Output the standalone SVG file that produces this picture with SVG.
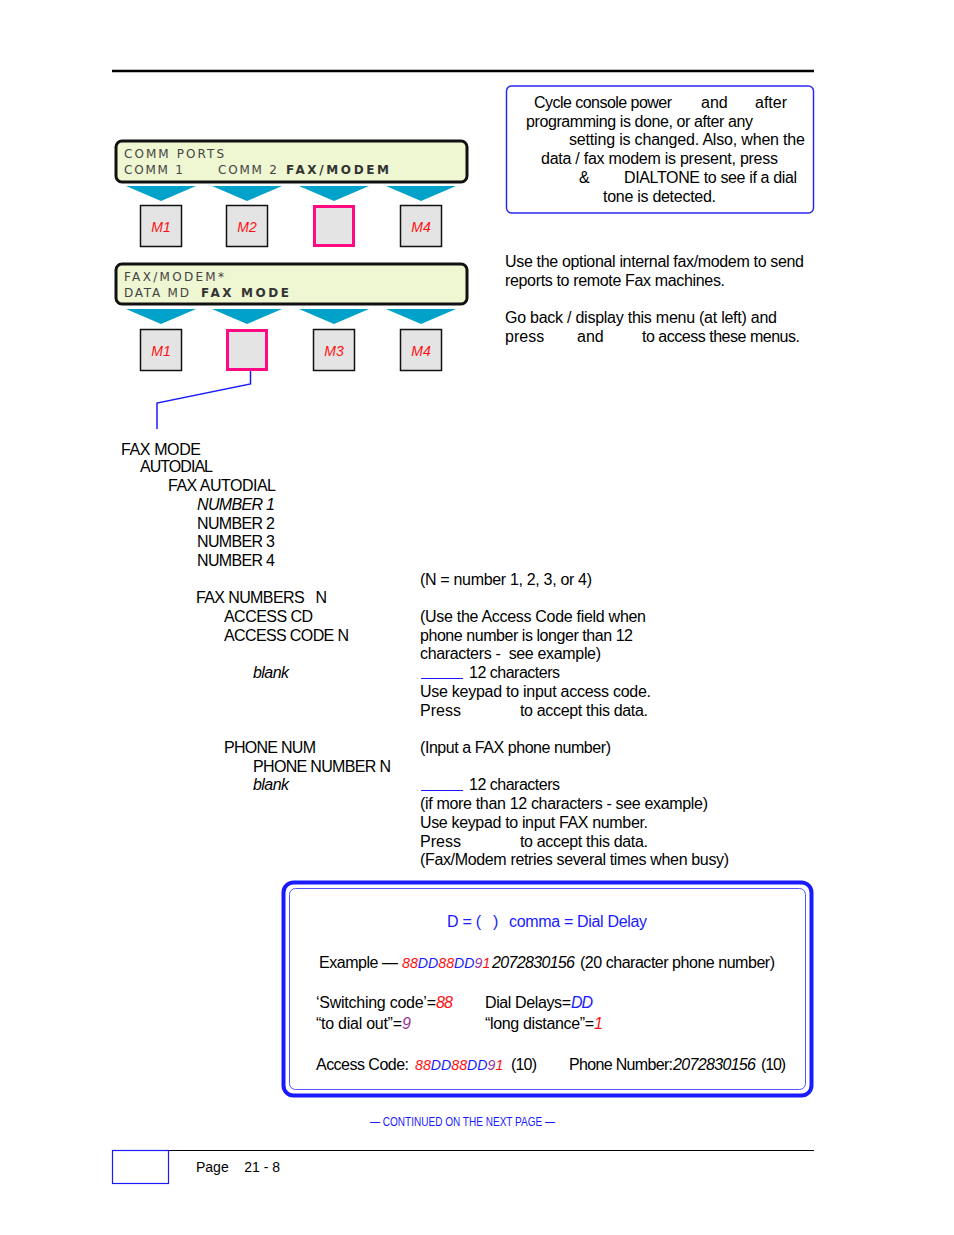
<svg xmlns="http://www.w3.org/2000/svg" width="954" height="1235" viewBox="0 0 954 1235">
<style>
.t{font-family:"Liberation Sans",Arial,sans-serif;font-size:16px;fill:#000}
.i{font-style:italic}
.cr{font-family:"Liberation Sans",Arial,sans-serif;font-size:14.2px;font-style:italic}
.lcd{font-family:"DejaVu Sans",Verdana,sans-serif;font-size:12px;fill:#444}
.lcdb{font-family:"DejaVu Sans",Verdana,sans-serif;font-size:12px;font-weight:bold;fill:#333}
.lcdbox{fill:#eef6d2;stroke:#111;stroke-width:3}
.tri{fill:#00a2c9}
.key{fill:#e4e4e4;stroke:#111;stroke-width:1.5}
.sel{fill:#e4e4e4;stroke:#ff0a82;stroke-width:3}
.ml{font-family:"Liberation Sans",Arial,sans-serif;font-size:14px;font-style:italic;fill:#ff1010;text-anchor:middle}
.r{fill:#ff1010}
.b{fill:#1a1aff}
.p{fill:#993399}
</style>
<rect width="954" height="1235" fill="#fff"/>
<line x1="112" y1="71" x2="814" y2="71" stroke="#000" stroke-width="2.5"/>

<g id="note-box">
<rect x="506.5" y="86" width="307" height="127" rx="5" fill="#fff" stroke="#2a2aee" stroke-width="1.5"/>
<text class="t" x="534" y="108" textLength="138">Cycle console power</text>
<text class="t" x="701" y="108">and</text>
<text class="t" x="755" y="108">after</text>
<text class="t" x="526" y="127" textLength="227">programming is done, or after any</text>
<text class="t" x="569" y="145" textLength="236">setting is changed.  Also, when the</text>
<text class="t" x="541" y="164" textLength="237">data / fax modem is present, press</text>
<text class="t" x="579" y="183">&amp;</text>
<text class="t" x="624" y="183" textLength="173">DIALTONE to see if a dial</text>
<text class="t" x="603" y="202" textLength="113">tone is detected.</text>
</g>

<g id="intro-text">
<text class="t" x="505" y="267" textLength="299">Use the optional internal fax/modem to send</text>
<text class="t" x="505" y="286" textLength="220">reports to remote Fax machines.</text>
<text class="t" x="505" y="323" textLength="272">Go back / display this menu (at left) and</text>
<text class="t" x="505" y="342">press</text>
<text class="t" x="577" y="342">and</text>
<text class="t" x="642" y="342" textLength="158">to access these menus.</text>
</g>

<g id="lcd1">
<rect class="lcdbox" x="116" y="141" width="351" height="41" rx="6"/>
<text class="lcd" x="124" y="158" textLength="100">COMM PORTS</text>
<text class="lcd" x="124" y="174" textLength="59">COMM 1</text>
<text class="lcd" x="218" y="174" textLength="59">COMM 2</text>
<text class="lcdb" x="286" y="174" textLength="103">FAX/MODEM</text>
</g>
<g id="tri1">
<polygon class="tri" points="126,186 196,186 161,201"/>
<polygon class="tri" points="212,186 282,186 247,201"/>
<polygon class="tri" points="299,186 369,186 334,201"/>
<polygon class="tri" points="386,186 456,186 421,201"/>
</g>
<g id="keys1">
<rect class="key" x="140.5" y="205.5" width="41" height="41"/><text class="ml" x="161" y="232">M1</text>
<rect class="key" x="226.5" y="205.5" width="41" height="41"/><text class="ml" x="247" y="232">M2</text>
<rect class="sel" x="314.5" y="206.5" width="39" height="39"/>
<rect class="key" x="400.5" y="205.5" width="41" height="41"/><text class="ml" x="421" y="232">M4</text>
</g>

<g id="lcd2">
<rect class="lcdbox" x="116" y="264" width="351" height="40" rx="6"/>
<text class="lcd" x="124" y="281" textLength="100">FAX/MODEM*</text>
<text class="lcd" x="124" y="297" textLength="65">DATA MD</text>
<text class="lcdb" x="201" y="297" textLength="88">FAX MODE</text>
</g>
<g id="tri2">
<polygon class="tri" points="126,309 196,309 161,324"/>
<polygon class="tri" points="212,309 282,309 247,324"/>
<polygon class="tri" points="299,309 369,309 334,324"/>
<polygon class="tri" points="386,309 456,309 421,324"/>
</g>
<g id="keys2">
<rect class="key" x="140.5" y="329.5" width="41" height="41"/><text class="ml" x="161" y="356">M1</text>
<rect class="sel" x="227.5" y="330.5" width="39" height="39"/>
<rect class="key" x="313.5" y="329.5" width="41" height="41"/><text class="ml" x="334" y="356">M3</text>
<rect class="key" x="400.5" y="329.5" width="41" height="41"/><text class="ml" x="421" y="356">M4</text>
</g>

<g id="connectors">
<polyline points="250.5,371 250.5,384 157,403 157,429" fill="none" stroke="#1a1aff" stroke-width="1.5"/>
<line x1="421" y1="678.5" x2="463" y2="678.5" stroke="#1a1aff" stroke-width="1"/>
<line x1="421" y1="790.5" x2="463" y2="790.5" stroke="#1a1aff" stroke-width="1"/>
</g>

<g id="tree">
<text class="t" x="121" y="455" textLength="80">FAX MODE</text>
<text class="t" x="140" y="472" textLength="73">AUTODIAL</text>
<text class="t" x="168" y="491" textLength="108">FAX AUTODIAL</text>
<text class="t i" x="197" y="510" textLength="78">NUMBER 1</text>
<text class="t" x="197" y="529" textLength="78">NUMBER 2</text>
<text class="t" x="197" y="547" textLength="78">NUMBER 3</text>
<text class="t" x="197" y="566" textLength="78">NUMBER 4</text>
<text class="t" x="196" y="603" textLength="131" xml:space="preserve">FAX NUMBERS   N</text>
<text class="t" x="224" y="622" textLength="89">ACCESS CD</text>
<text class="t" x="224" y="641" textLength="125">ACCESS CODE N</text>
<text class="t i" x="253" y="678" textLength="36">blank</text>
<text class="t" x="224" y="753" textLength="92">PHONE NUM</text>
<text class="t" x="253" y="772" textLength="138">PHONE NUMBER N</text>
<text class="t i" x="253" y="790" textLength="36">blank</text>
</g>

<g id="descriptions">
<text class="t" x="420" y="585" textLength="172">(N = number 1, 2, 3, or 4)</text>
<text class="t" x="420" y="622" textLength="226">(Use the Access Code field when</text>
<text class="t" x="420" y="641" textLength="213">phone number is longer than 12</text>
<text class="t" x="420" y="659" textLength="181" xml:space="preserve">characters -  see example)</text>
<text class="t" x="469" y="678" textLength="91">12 characters</text>
<text class="t" x="420" y="697" textLength="231">Use keypad to input access code.</text>
<text class="t" x="420" y="716">Press</text>
<text class="t" x="520" y="716" textLength="128">to accept this data.</text>
<text class="t" x="420" y="753" textLength="191">(Input a FAX phone number)</text>
<text class="t" x="469" y="790" textLength="91">12 characters</text>
<text class="t" x="420" y="809" textLength="288">(if more than 12 characters - see example)</text>
<text class="t" x="420" y="828" textLength="228">Use keypad to input FAX number.</text>
<text class="t" x="420" y="847">Press</text>
<text class="t" x="520" y="847" textLength="128">to accept this data.</text>
<text class="t" x="420" y="865" textLength="309">(Fax/Modem retries several times when busy)</text>
</g>

<g id="example-box">
<rect x="283.5" y="882.5" width="528" height="213" rx="10" fill="#fff" stroke="#1a1aff" stroke-width="4"/>
<rect x="289.5" y="888.5" width="516" height="201" rx="6" fill="none" stroke="#5555ff" stroke-width="1"/>
<text class="t b" x="447" y="927" textLength="34">D = (</text>
<text class="t b" x="493" y="927">)</text>
<text class="t b" x="509" y="927" textLength="138">comma = Dial Delay</text>

<text class="t" x="319" y="968" textLength="79">Example —</text>
<text class="cr" x="402" y="968"><tspan class="r">88</tspan><tspan class="b">DD</tspan><tspan class="r">88</tspan><tspan class="b">DD</tspan><tspan class="p">9</tspan><tspan class="r">1</tspan></text>
<text class="t i" x="492" y="968" textLength="83">2072830156</text>
<text class="t" x="580" y="968" textLength="195">(20 character phone number)</text>

<text class="t" x="316" y="1008" textLength="120">‘Switching code’=</text>
<text class="t i r" x="436" y="1008" textLength="17">88</text>
<text class="t" x="485" y="1008" textLength="86">Dial Delays=</text>
<text class="t i b" x="571" y="1008" textLength="22">DD</text>
<text class="t" x="316" y="1029" textLength="86">“to dial out”=</text>
<text class="t i p" x="402" y="1029">9</text>
<text class="t" x="485" y="1029" textLength="109">“long distance”=</text>
<text class="t i r" x="594" y="1029">1</text>

<text class="t" x="316" y="1070" textLength="93">Access Code:</text>
<text class="cr" x="415" y="1070"><tspan class="r">88</tspan><tspan class="b">DD</tspan><tspan class="r">88</tspan><tspan class="b">DD</tspan><tspan class="p">9</tspan><tspan class="r">1</tspan></text>
<text class="t" x="511" y="1070" textLength="26">(10)</text>
<text class="t" x="569" y="1070" textLength="104">Phone Number:</text>
<text class="t i" x="673" y="1070" textLength="83">2072830156</text>
<text class="t" x="761" y="1070" textLength="25">(10)</text>
</g>

<g id="footer">
<text x="370" y="1126" textLength="185" lengthAdjust="spacingAndGlyphs" style="font-family:'Liberation Sans',Arial,sans-serif;font-size:12px;fill:#1a1aff">— CONTINUED ON THE NEXT PAGE —</text>
<line x1="112" y1="1150.5" x2="814" y2="1150.5" stroke="#000" stroke-width="1"/>
<rect x="112.5" y="1150.5" width="56" height="33" fill="none" stroke="#1a1aff" stroke-width="1.2"/>
<text x="196" y="1172" style="font-family:'Liberation Sans',Arial,sans-serif;font-size:14px" xml:space="preserve">Page    21 - 8</text>
</g>
</svg>
